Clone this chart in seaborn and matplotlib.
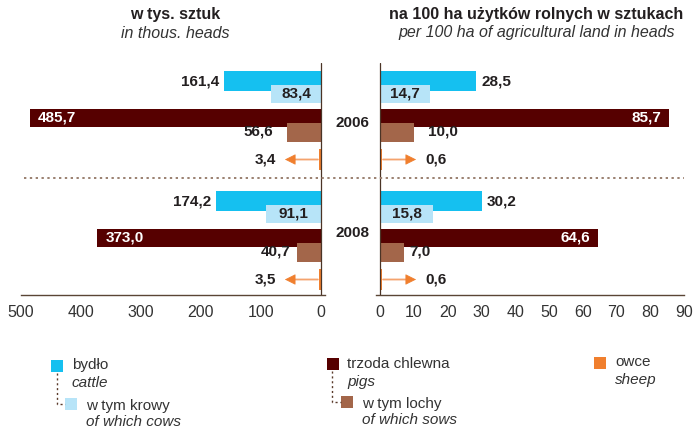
import numpy as np
import matplotlib
matplotlib.use('Agg')
import matplotlib.pyplot as plt
import matplotlib.transforms as mtransforms
from matplotlib.lines import Line2D
from matplotlib.patches import Rectangle
import seaborn as sns

# --------------------------------------------------------------------
# DATA
# --------------------------------------------------------------------
years = ['2006', '2008']

# w tys. sztuk / in thous. heads
cattle_thous = [161.4, 174.2]
cows_thous = [83.4, 91.1]
pigs_thous = [485.7, 373.0]
sows_thous = [56.6, 40.7]
sheep_thous = [3.4, 3.5]

# na 100 ha uzytkow rolnych / per 100 ha of agricultural land
cattle_per100 = [28.5, 30.2]
cows_per100 = [14.7, 15.8]
pigs_per100 = [85.7, 64.6]
sows_per100 = [10.0, 7.0]
sheep_per100 = [0.6, 0.6]

left_ticks = [500, 400, 300, 200, 100, 0]
right_ticks = [0, 10, 20, 30, 40, 50, 60, 70, 80, 90]

# --------------------------------------------------------------------
# STYLE
# --------------------------------------------------------------------
sns.set_style('white')
plt.rcParams['font.family'] = ['Liberation Sans', 'DejaVu Sans']

C_CATTLE = '#15c0f0'
C_COWS = '#b7e4f8'
C_PIGS = '#560000'
C_SOWS = '#a3664a'
C_SHEEP = '#f07f2e'
C_ARROW = '#f4a36e'
C_TEXT = '#231f20'
C_AXIS = '#5a4535'
C_ZERO = '#4b3426'
C_DOTS = '#9a8070'

W, H = 697, 429
fig = plt.figure(figsize=(W / 100, H / 100), dpi=100)


def fx(px):
    return px / W


def fy(py):
    return 1 - py / H


# axes placed in pixel rows 63..295, data y == pixel row
axL = fig.add_axes([fx(21), fy(295), fx(304), (295 - 63) / H])
axR = fig.add_axes([fx(376), fy(295), fx(308), (295 - 63) / H])

# layout of the five bars inside each year group (pixel rows)
group_top = np.array([81, 201])
offsets = {'cattle': 0, 'cows': 13, 'pigs': 37, 'sows': 51, 'sheep': 78.5}
heights = {'cattle': 20, 'cows': 18, 'pigs': 18, 'sows': 19, 'sheep': 21}
year_label_y = [123, 233]
sows_gap = [14, 6]


def fmt(v):
    return f'{v:.1f}'.replace('.', ',')


def shifted(ax, dx):
    return mtransforms.offset_copy(ax.transData, fig=fig, x=dx, y=0, units='dots')


def draw_panel(ax, cattle, cows, pigs, sows, sheep, sign):
    series = [('cattle', cattle, C_CATTLE), ('cows', cows, C_COWS),
              ('pigs', pigs, C_PIGS), ('sows', sows, C_SOWS),
              ('sheep', sheep, C_SHEEP)]
    for name, vals, col in series:
        pos = group_top + offsets[name]
        width = heights[name] / np.diff(pos).min()
        sns.barplot(x=vals, y=pos, orient='h', native_scale=True, width=width,
                    color=col, saturation=1, linewidth=0, errorbar=None, ax=ax)

    out_ha = 'right' if sign < 0 else 'left'
    in_ha = 'left' if sign < 0 else 'right'
    lab = dict(fontsize=11, fontweight='bold', va='center', color=C_TEXT)
    for i in range(len(years)):
        y = group_top[i]
        ax.text(cattle[i], y + offsets['cattle'], fmt(cattle[i]),
                transform=shifted(ax, sign * 5), ha=out_ha, **lab)
        ax.text(cows[i] / 2, y + offsets['cows'], fmt(cows[i]), ha='center', **lab)
        ax.text(pigs[i], y + offsets['pigs'], fmt(pigs[i]),
                transform=shifted(ax, -sign * 8), ha=in_ha,
                **{**lab, 'color': 'white'})
        ax.text(sows[i], y + offsets['sows'], fmt(sows[i]),
                transform=shifted(ax, sign * sows_gap[i]), ha=out_ha, **lab)
        # sheep: thin bar with an arrow pointing to its label
        ys = y + offsets['sheep']
        ax.annotate('', xy=(sheep[i], ys), xycoords=shifted(ax, sign * 26),
                    xytext=(sheep[i], ys), textcoords=shifted(ax, sign * 1),
                    arrowprops=dict(arrowstyle='-', color=C_ARROW, lw=1.3,
                                    shrinkA=0, shrinkB=0))
        ax.annotate('', xy=(sheep[i], ys), xycoords=shifted(ax, sign * 34),
                    xytext=(sheep[i], ys), textcoords=shifted(ax, sign * 24),
                    arrowprops=dict(arrowstyle='-|>', color=C_SHEEP, lw=0.5,
                                    mutation_scale=17, shrinkA=0, shrinkB=0))
        ax.text(sheep[i], ys, fmt(sheep[i]),
                transform=shifted(ax, sign * 43), ha=out_ha, **lab)

    ax.axvline(0, color=C_ZERO, lw=0.9, zorder=5)
    ax.set_ylim(295, 63)
    ax.set_yticks([])
    ax.set_xlabel('')
    ax.set_ylabel('')
    for s in ['top', 'left', 'right']:
        ax.spines[s].set_visible(False)
    ax.spines['bottom'].set_color(C_AXIS)
    ax.spines['bottom'].set_linewidth(1.0)
    ax.tick_params(axis='x', direction='out', length=3, width=1, color=C_AXIS,
                   labelsize=11.5, labelcolor='#333333', pad=4)


draw_panel(axL, cattle_thous, cows_thous, pigs_thous, sows_thous, sheep_thous, -1)
axL.set_xlim(500, -6.7)
axL.set_xticks(left_ticks)
axL.set_xticklabels([str(t) for t in left_ticks])

draw_panel(axR, cattle_per100, cows_per100, pigs_per100, sows_per100, sheep_per100, 1)
axR.set_xlim(-1.2, 90)
axR.set_xticks(right_ticks)
axR.set_xticklabels([str(t) for t in right_ticks])

# year labels between the panels
trans = mtransforms.blended_transform_factory(fig.transFigure, axL.transData)
for yr, yy in zip(years, year_label_y):
    axL.text(fx(352), yy, yr, transform=trans, ha='center', va='center',
             fontsize=11, fontweight='bold', color=C_TEXT, clip_on=False)

# dotted separator between the years
fig.add_artist(Line2D([fx(24), fx(684)], [fy(178), fy(178)], color=C_DOTS,
                      lw=1.4, linestyle=(0, (1.2, 1.8))))

# panel titles
fig.text(fx(175), fy(14), 'w tys. sztuk', ha='center', va='center',
         fontsize=11.5, fontweight='bold', color=C_TEXT)
fig.text(fx(175), fy(33), 'in thous. heads', ha='center', va='center',
         fontsize=11.5, style='italic', color='#333333')
fig.text(fx(536), fy(14), 'na 100 ha użytków rolnych w sztukach', ha='center',
         va='center', fontsize=11.5, fontweight='bold', color=C_TEXT)
fig.text(fx(537), fy(33), 'per 100 ha of agricultural land in heads',
         ha='center', va='center', fontsize=11.5, style='italic', color='#333333')

# --------------------------------------------------------------------
# LEGEND (hand drawn, as in the reference)
# --------------------------------------------------------------------
def swatch(x, y, col):
    fig.add_artist(Rectangle((fx(x), fy(y + 12)), fx(12), 12 / H,
                             facecolor=col, edgecolor='none'))


def legend_text(x, y, s, italic=False):
    fig.text(fx(x), fy(y), s, ha='left', va='baseline', fontsize=11,
             style='italic' if italic else 'normal', color='#333333')


def connector(x, y0, y1, x1):
    fig.add_artist(Line2D([fx(x), fx(x), fx(x1)], [fy(y0), fy(y1), fy(y1)],
                          color='#5a3a2a', lw=1.0, linestyle=(0, (1.5, 2))))


swatch(51, 360, C_CATTLE)
legend_text(72, 369, 'bydło')
legend_text(72, 387, 'cattle', italic=True)
connector(57, 373, 404, 65)
swatch(65, 398, C_COWS)
legend_text(86, 410, 'w tym krowy')
legend_text(86, 426, 'of which cows', italic=True)

swatch(327, 358, C_PIGS)
legend_text(347, 368, 'trzoda chlewna')
legend_text(347, 386, 'pigs', italic=True)
connector(332, 371, 402, 341)
swatch(341, 396, C_SOWS)
legend_text(362, 408, 'w tym lochy')
legend_text(362, 424, 'of which sows', italic=True)

swatch(594, 357, C_SHEEP)
legend_text(615, 366, 'owce')
legend_text(615, 384, 'sheep', italic=True)

fig.savefig('out.png', dpi=100)
